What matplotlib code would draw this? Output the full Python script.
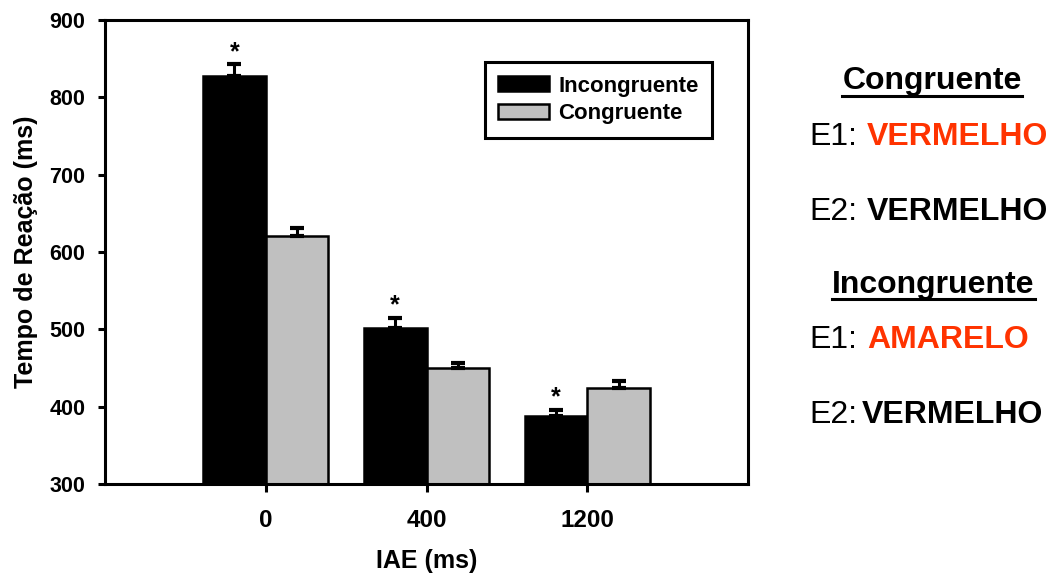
import matplotlib.pyplot as plt
import numpy as np

plt.rcParams['font.family'] = ['Liberation Sans', 'DejaVu Sans']

# tempo de reação médio (ms) por IAE
iae = ['0', '400', '1200']
incongruente = [828, 502, 388]
congruente = [621, 450, 424]
err_inc = [15, 13, 8]
err_con = [10, 7, 9]
signif = [True, True, True]  # asteriscos sobre Incongruente

fig = plt.figure(figsize=(10.52, 5.78), dpi=100)
ax = fig.add_axes([105 / 1052, 1 - 484 / 578, 643 / 1052, 464 / 578])

x = np.arange(len(iae))
w = 0.39
lw = 2.2

ax.bar(x - w / 2, incongruente, w, color='black', edgecolor='black',
       linewidth=1.8, label='Incongruente', zorder=2)
ax.bar(x + w / 2, congruente, w, color='#c0c0c0', edgecolor='black',
       linewidth=1.8, label='Congruente', zorder=2)

# barras de erro só para cima
ax.errorbar(x - w / 2, incongruente, yerr=[[0] * 3, err_inc], fmt='none',
            ecolor='black', elinewidth=2.2, capsize=5, capthick=3, zorder=3)
ax.errorbar(x + w / 2, congruente, yerr=[[0] * 3, err_con], fmt='none',
            ecolor='black', elinewidth=2.2, capsize=5, capthick=3, zorder=3)

for xi, v, e, s in zip(x, incongruente, err_inc, signif):
    if s:
        ax.annotate('*', (xi - w / 2, v + e), xytext=(0, 0), textcoords='offset points',
                    ha='center', va='bottom', fontsize=18, fontweight='bold')

ax.set_xlim(-1, 3)
ax.set_ylim(300, 900)
ax.set_yticks(range(300, 901, 100))
ax.set_xticks(x)
ax.set_xticklabels(iae)

for sp in ax.spines.values():
    sp.set_linewidth(lw)
ax.tick_params(axis='y', direction='out', length=5, width=lw, labelsize=15.5, pad=9)
ax.tick_params(axis='x', direction='out', length=6, width=lw, labelsize=17.5, pad=12)
for lab in ax.get_xticklabels() + ax.get_yticklabels():
    lab.set_fontweight('bold')

ax.set_xlabel('IAE (ms)', fontsize=18, fontweight='bold', labelpad=12)
ax.set_ylabel('Tempo de Reação (ms)', fontsize=18, fontweight='bold', labelpad=8)

leg = ax.legend(loc='upper right', bbox_to_anchor=(0.944, 0.909), borderaxespad=0,
                fancybox=False, edgecolor='black', framealpha=1,
                handlelength=2.3, handleheight=0.65, borderpad=0.6, labelspacing=0.3,
                handletextpad=0.4, prop={'weight': 'bold', 'size': 16})
leg.get_frame().set_linewidth(lw)

# exemplo de estímulos à direita
red = '#ff3300'
H, W = 578, 1052


def fy(py):
    return 1 - py / H


def fx(px):
    return px / W


fig.text(fx(932), fy(89), 'Congruente', ha='center', va='baseline', fontsize=23, fontweight='bold')
fig.add_artist(plt.Line2D([fx(842), fx(1022)], [fy(96), fy(96)], color='black', lw=2.2))
fig.text(fx(933), fy(293), 'Incongruente', ha='center', va='baseline', fontsize=23, fontweight='bold')
fig.add_artist(plt.Line2D([fx(832), fx(1035)], [fy(299), fy(299)], color='black', lw=2.2))

linhas = [
    (145, 'E1:', 'VERMELHO', red, 867),
    (220, 'E2:', 'VERMELHO', 'black', 867),
    (348, 'E1:', 'AMARELO', red, 867),
    (423, 'E2:', 'VERMELHO', 'black', 862),
]
for py, rot, palavra, cor, px in linhas:
    fig.text(fx(809), fy(py), rot, ha='left', va='baseline', fontsize=23)
    fig.text(fx(px), fy(py), palavra, ha='left', va='baseline', fontsize=23,
             fontweight='bold', color=cor)

fig.savefig('out.png', dpi=100)
